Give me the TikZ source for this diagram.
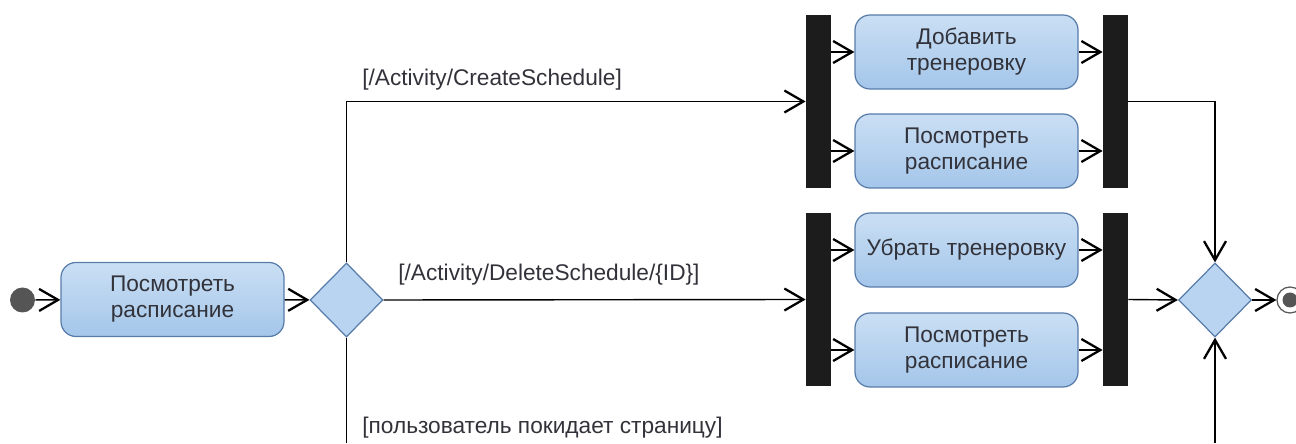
\documentclass[tikz,border=0pt]{standalone}
\usepackage{fontspec}
\setmainfont{Liberation Sans}
\usepackage{tikz}
\usetikzlibrary{arrows.meta, positioning, calc, shapes.geometric}
\definecolor{actfill}{RGB}{184, 212, 240}
\definecolor{actfilldark}{RGB}{164, 198, 234}
\definecolor{actborder}{RGB}{88, 124, 170}
\definecolor{textgray}{RGB}{50, 50, 58}
\definecolor{barblack}{RGB}{28, 28, 28}
\definecolor{startgray}{RGB}{85, 85, 85}

\begin{document}
\begin{tikzpicture}[
  font=\fontsize{12.9}{14.8}\selectfont,
  action/.style={rectangle, rounded corners=0.3cm, draw=actborder, line width=0.7pt,
    top color=actfill!75!white, bottom color=actfilldark, text=textgray, align=center,
    minimum width=4.46cm, minimum height=1.48cm, inner sep=0pt},
  decision/.style={diamond, draw=actborder, line width=0.7pt, fill=actfill,
    minimum width=1.46cm, minimum height=1.48cm, inner sep=0pt},
  bar/.style={rectangle, fill=barblack, minimum width=0.5cm, minimum height=3.46cm, inner sep=0pt},
  guard/.style={anchor=west, text=textgray, inner sep=0pt},
  flow/.style={line width=0.8pt, -{Straight Barb[length=0.38cm, width=0.44cm, line width=1.3pt]}},
  line/.style={line width=0.8pt}
]
\useasboundingbox (0,0) rectangle (25.92,8.86);

\node[circle, fill=startgray, minimum size=0.5cm, inner sep=0pt] (start) at (0.45,2.86) {};
\node[action] (view) at (3.45,2.87) {Посмотреть\\расписание};
\node[decision] (choice) at (6.93,2.86) {};

\node[bar] (fork1) at (16.37,6.83) {};
\node[bar] (join1) at (22.31,6.83) {};
\node[action] (add) at (19.33,7.82) {Добавить\\тренеровку};
\node[action] (view1) at (19.33,5.84) {Посмотреть\\расписание};

\node[bar] (fork2) at (16.37,2.87) {};
\node[bar] (join2) at (22.31,2.87) {};
\node[action] (remove) at (19.33,3.86) {Убрать тренеровку};
\node[action] (view2) at (19.33,1.86) {Посмотреть\\расписание};

\node[decision] (merge) at (24.30,2.86) {};
\node[circle, draw=startgray, line width=0.7pt, fill=white, minimum size=0.52cm, inner sep=0pt] (stop) at (25.80,2.86) {};
\fill[startgray] (stop.center) circle (0.15);

\coordinate (leave) at (6.93,0);
\coordinate (back) at (24.30,0);

\node[guard] (createlbl) at (7.24,7.26) {[/Activity/CreateSchedule]};
\node[guard] (deletelbl) at (7.96,3.36) {[/Activity/DeleteSchedule/\{ID\}]};
\node[guard] (leavelbl) at (7.24,0.30) {[пользователь покидает страницу]};

\draw[flow] (start) -- (view);
\draw[flow] (view) -- (choice);
\draw[flow] (choice.north) |- (fork1.west);
\draw[flow] (choice.east) -- (fork2.west);
\draw[line] (choice.south) -- (leave);

\draw[flow] (fork1.east |- add.west) -- (add.west);
\draw[flow] (fork1.east |- view1.west) -- (view1.west);
\draw[flow] (add.east) -- (join1.west |- add.east);
\draw[flow] (view1.east) -- (join1.west |- view1.east);

\draw[flow] (fork2.east |- remove.west) -- (remove.west);
\draw[flow] (fork2.east |- view2.west) -- (view2.west);
\draw[flow] (remove.east) -- (join2.west |- remove.east);
\draw[flow] (view2.east) -- (join2.west |- view2.east);

\draw[flow] (join1.east) -| (merge.north);
\draw[flow] (join2.east) -- (merge.west);
\draw[flow] (back) -- (merge.south);
\draw[flow] (merge.east) -- (stop.west);
\end{tikzpicture}
\end{document}
